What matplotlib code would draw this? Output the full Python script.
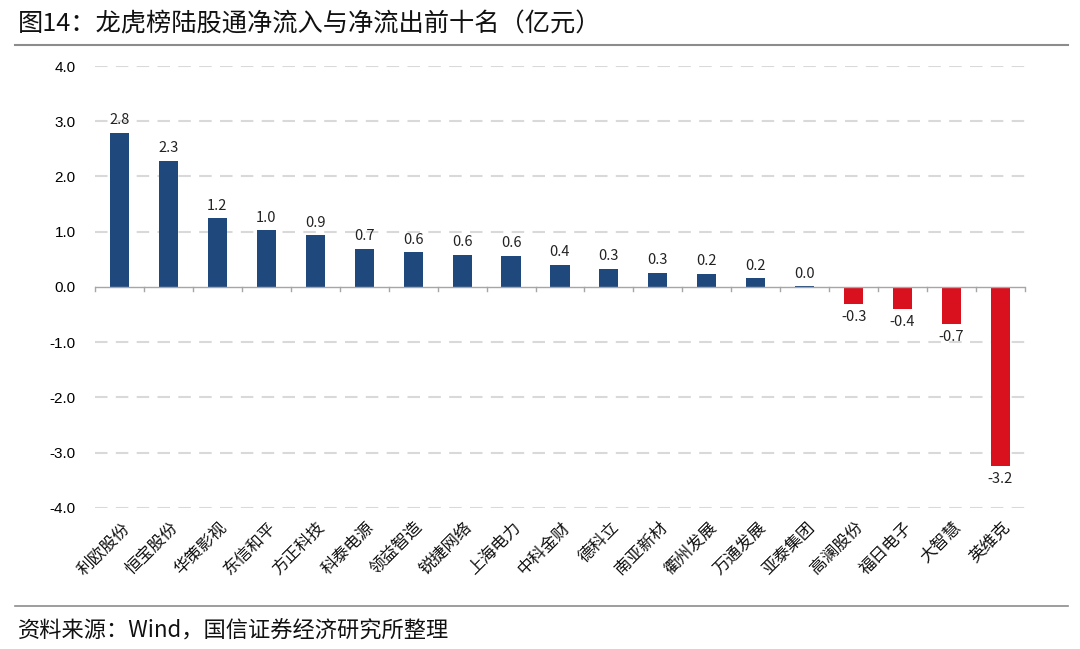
import matplotlib
matplotlib.use('Agg')
import matplotlib.pyplot as plt
import numpy as np
from matplotlib.lines import Line2D

plt.rcParams['font.family'] = ['Noto Sans CJK SC', 'DejaVu Sans']

# data (亿元)
stocks = ['利欧股份', '恒宝股份', '华策影视', '东信和平', '方正科技', '科泰电源', '领益智造',
          '锐捷网络', '上海电力', '中科金财', '德科立', '南亚新材', '衢州发展', '万通发展',
          '亚泰集团', '高澜股份', '福日电子', '大智慧', '英维克']
net_flow = [2.79, 2.28, 1.24, 1.03, 0.94, 0.69, 0.63, 0.58, 0.56, 0.40, 0.33, 0.26,
            0.24, 0.16, 0.01, -0.31, -0.40, -0.67, -3.24]
y_ticks = [-4, -3, -2, -1, 0, 1, 2, 3, 4]

title = '图14：龙虎榜陆股通净流入与净流出前十名（亿元）'
source = '资料来源：Wind，国信证券经济研究所整理'

blue = '#1f497d'
red = '#d9101e'

fig = plt.figure(figsize=(10.8, 6.49), dpi=100)
ax = fig.add_axes([0.088, 0.2173, 0.861, 0.681])

x = np.arange(len(stocks))
colors = [blue if v >= 0 else red for v in net_flow]
ax.bar(x, net_flow, width=0.39, color=colors, zorder=3)

for xi, v in zip(x, net_flow):
    if v >= 0:
        ax.annotate(f'{v:.1f}', (xi, v), xytext=(0, 4), textcoords='offset points',
                    ha='center', va='bottom', fontsize=10.5, color='#222222')
    else:
        ax.annotate(f'{v:.1f}', (xi, v), xytext=(0, -4), textcoords='offset points',
                    ha='center', va='top', fontsize=10.5, color='#222222')

ax.set_xlim(-0.5, len(stocks) - 0.5)
ax.set_ylim(-4, 4)
ax.set_yticks(y_ticks)
ax.set_yticklabels([f'{t:.1f}' for t in y_ticks], fontsize=11, family='Liberation Sans')
ax.tick_params(axis='y', length=0, pad=14)

for t in y_ticks:
    if t != 0:
        ax.axhline(t, color='#d9d9d9', linewidth=1.5, linestyle=(0, (6, 4)), zorder=1)
ax.axhline(0, color='#a6a6a6', linewidth=1, zorder=4)

for s in ax.spines.values():
    s.set_visible(False)

# category boundary ticks on the zero line
ax.set_xticks([])
for b in np.arange(-0.5, len(stocks), 1.0):
    ax.plot([b, b], [0, -0.07], color='#a6a6a6', linewidth=1, zorder=4, clip_on=False)

# rotated category labels under the plot
for xi, name in zip(x, stocks):
    ax.annotate(name, (xi, -4), xytext=(1, -8), textcoords='offset points',
                ha='right', va='top', rotation=45, rotation_mode='anchor',
                fontsize=12, color='#111111')

fig.text(0.017, 0.963, title, fontsize=18.2, ha='left', va='center', color='#111111')
fig.add_artist(Line2D([0.014, 0.989], [0.930, 0.930], color='#8c8c8c', linewidth=1.5,
                      transform=fig.transFigure))
fig.add_artist(Line2D([0.014, 0.989], [0.066, 0.066], color='#8c8c8c', linewidth=1.2,
                      transform=fig.transFigure))
fig.text(0.017, 0.027, source, fontsize=16, ha='left', va='center', color='#111111')

fig.savefig('out.png', dpi=100)
